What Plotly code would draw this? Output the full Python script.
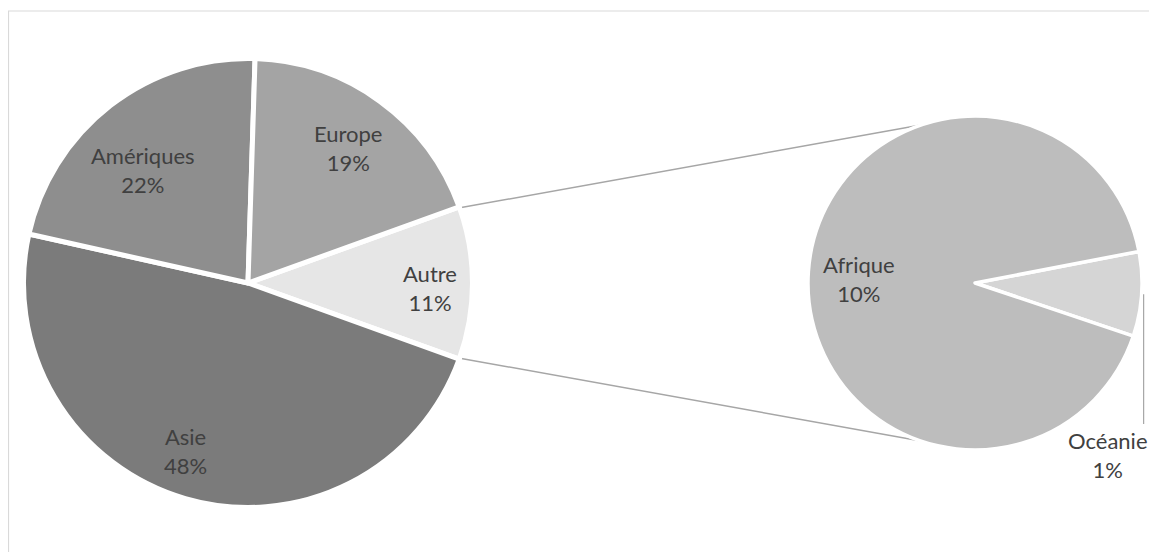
import math
import plotly.graph_objects as go

# ---------------- data ----------------
main_labels = ["Autre", "Asie", "Amériques", "Europe"]
main_values = [11.0, 48.0, 22.0, 19.0]
main_colors = ["#e6e6e6", "#7b7b7b", "#8e8e8e", "#a4a4a4"]

sub_labels = ["Océanie", "Afrique"]
sub_values = [0.9, 10.1]
sub_colors = ["#d5d5d5", "#bdbdbd"]

# ---------------- layout geometry (window pixels) ----------------
WIN_W, WIN_H = 1157, 560
OFF = 8                      # default page body margin
FW, FH = WIN_W - 2 * OFF, WIN_H - 2 * OFF
C1, R1 = (248.0, 283.0), 224.5
C2, R2 = (975.0, 283.0), 167.0
FONT = "Lato, Calibri, 'Open Sans', sans-serif"
FSIZE = 22
TXT = "#404040"

# label anchor positions in window pixels (layout, not data)
main_label_pos = {"Autre": (430, 288), "Asie": (185, 451),
                  "Amériques": (143, 170), "Europe": (348, 148)}
sub_label_pos = {"Afrique": (859, 279), "Océanie": (1108, 455)}


def px(x):
    return (x - OFF) / FW


def py(y):
    return 1 - (y - OFF) / FH


def domain(c, r):
    return dict(x=[px(c[0] - r), px(c[0] + r)], y=[py(c[1] + r), py(c[1] - r)])


# rotation so that "Autre" is centered at 3 o'clock
total_main = sum(main_values)
autre_half = main_values[0] / total_main * 360 / 2
rot_main = 90 - autre_half

sub_total = sum(sub_values)
oce_deg = sub_values[0] / sub_total * 360
rot_sub = 79.1

fig = go.Figure()
fig.add_trace(go.Pie(
    labels=main_labels, values=main_values, sort=False, direction="clockwise",
    rotation=rot_main, textinfo="none", hoverinfo="label+percent",
    marker=dict(colors=main_colors, line=dict(color="white", width=5)),
    domain=domain(C1, R1), showlegend=False,
))
fig.add_trace(go.Pie(
    labels=sub_labels, values=sub_values, sort=False, direction="clockwise",
    rotation=rot_sub, textinfo="none", hoverinfo="label+value",
    marker=dict(colors=sub_colors, line=dict(color="white", width=3.5)),
    domain=domain(C2, R2), showlegend=False,
))

shapes = []
# chart border (cropped at right/bottom)
shapes.append(dict(type="rect", xref="paper", yref="paper",
                   x0=px(8.5), y0=py(11), x1=px(WIN_W + 20), y1=py(WIN_H + 20),
                   line=dict(color="#d9d9d9", width=1.2), layer="below"))

# connector lines: from Autre slice edges to tangents of the sub pie
a = math.radians(autre_half)
r1e = R1 - 2.5
p_up = (C1[0] + r1e * math.cos(a) + 3, C1[1] - r1e * math.sin(a))
p_dn = (C1[0] + r1e * math.cos(a) + 3, C1[1] + r1e * math.sin(a))


def tangent(p, c, r, upper):
    vx, vy = p[0] - c[0], p[1] - c[1]
    d = math.hypot(vx, vy)
    th = math.atan2(vy, vx)
    al = math.acos(r / d)
    cands = [(c[0] + r * math.cos(th + s * al), c[1] + r * math.sin(th + s * al)) for s in (1, -1)]
    cands.sort(key=lambda t: t[1])
    return cands[0] if upper else cands[1]


for p, up in ((p_up, True), (p_dn, False)):
    t = tangent(p, C2, R2 - 2, up)
    shapes.append(dict(type="line", xref="paper", yref="paper",
                       x0=px(p[0]), y0=py(p[1]), x1=px(t[0]), y1=py(t[1]),
                       line=dict(color="#a6a6a6", width=1.5), layer="below"))

# leader line for Océanie
mid = math.radians(90 - (rot_sub + oce_deg / 2))
lx = C2[0] + R2 * math.cos(mid) + 2
ly = C2[1] - R2 * math.sin(mid)
shapes.append(dict(type="line", xref="paper", yref="paper",
                   x0=px(lx), y0=py(ly), x1=px(lx), y1=py(sub_label_pos["Océanie"][1] - 31),
                   line=dict(color="#a6a6a6", width=1.2)))

annotations = []
for lab, v in zip(main_labels, main_values):
    x, y = main_label_pos[lab]
    annotations.append(dict(x=px(x), y=py(y), xref="paper", yref="paper",
                            text=f"{lab}<br>{round(v / total_main * 100)}%",
                            showarrow=False, xanchor="center", yanchor="middle",
                            font=dict(family=FONT, size=FSIZE, color=TXT)))
for lab, v in zip(sub_labels, sub_values):
    x, y = sub_label_pos[lab]
    annotations.append(dict(x=px(x), y=py(y), xref="paper", yref="paper",
                            text=f"{lab}<br>{round(v / total_main * 100)}%",
                            showarrow=False, xanchor="center", yanchor="middle",
                            font=dict(family=FONT, size=FSIZE, color=TXT)))

fig.update_layout(
    width=FW, height=FH, margin=dict(l=0, r=0, t=0, b=0),
    paper_bgcolor="white", plot_bgcolor="white",
    shapes=shapes, annotations=annotations,
)

fig.write_html("out.html")
